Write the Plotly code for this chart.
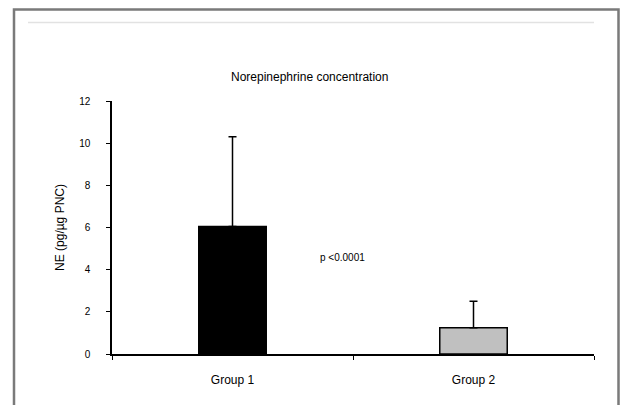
import plotly.graph_objects as go

categories = ["Group 1", "Group 2"]
means = [6.05, 1.25]
sd_upper = [4.25, 1.25]
bar_colors = ["#000000", "#c0c0c0"]
y_ticks = [0, 2, 4, 6, 8, 10, 12]

L, R, T, B = 112, 28, 101, 51
W, H = 622, 405
pw, ph = W - L - R, H - T - B

def px(x):
    return (x - L) / pw

def py(y):
    return (H - B - y) / ph

fig = go.Figure()
fig.add_trace(go.Bar(
    x=categories, y=means, width=0.28,
    marker=dict(color=bar_colors, line=dict(color="black", width=1.5)),
    error_y=dict(type="data", symmetric=False, array=sd_upper,
                 arrayminus=[0, 0], color="black", thickness=1.5, width=4),
    showlegend=False,
))

fig.update_layout(
    width=W, height=H,
    margin=dict(l=L, r=R, t=T, b=B),
    paper_bgcolor="white", plot_bgcolor="white",
    font=dict(family="Liberation Sans, Arial, sans-serif", color="black"),
    xaxis=dict(showline=True, linecolor="black", linewidth=1.5,
               ticks="outside", tickson="boundaries", ticklen=4,
               tickcolor="black", tickfont=dict(size=12),
               range=[-0.5, 1.5], showgrid=False, zeroline=False,
               ticklabelstandoff=14),
    yaxis=dict(range=[0, 12], tickvals=y_ticks, showline=True,
               linecolor="black", linewidth=1.5, ticks="outside", ticklen=4,
               tickcolor="black", tickfont=dict(size=10),
               showgrid=False, zeroline=False, ticklabelstandoff=14,
               title=dict(text="NE (pg/µg PNC)", font=dict(size=12), standoff=12)),
    shapes=[
        dict(type="rect", xref="paper", yref="paper",
             x0=px(14), x1=px(618.5), y0=py(9.5), y1=-0.5,
             line=dict(color="#7a7a7a", width=2.5), fillcolor="rgba(0,0,0,0)",
             layer="below"),
        dict(type="line", xref="paper", yref="paper",
             x0=px(28), x1=px(594), y0=py(22.5), y1=py(22.5),
             line=dict(color="#e2e2e2", width=1.5)),
    ],
    annotations=[
        dict(text="Norepinephrine concentration", xref="paper", yref="paper",
             x=px(309), y=py(77), xanchor="center", yanchor="middle",
             showarrow=False, font=dict(size=12)),
        dict(text="p <0.0001", xref="paper", yref="paper",
             x=px(342), y=py(257), xanchor="center", yanchor="middle",
             showarrow=False, font=dict(size=10)),
    ],
)

fig.write_html("out.html")
